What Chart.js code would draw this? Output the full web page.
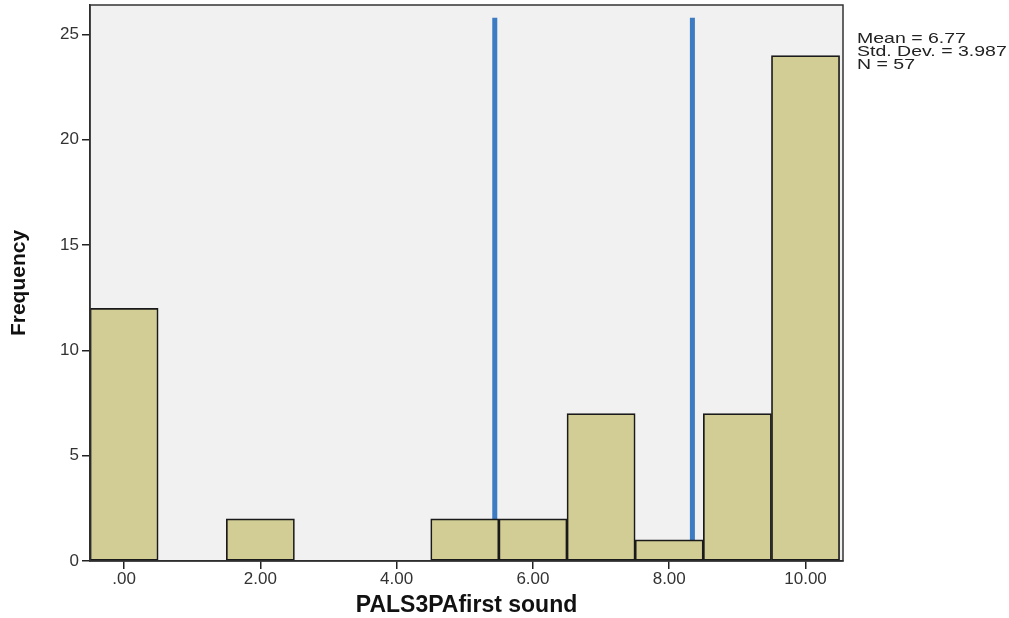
<!DOCTYPE html>
<html>
<head>
<meta charset="utf-8">
<script src="https://cdn.jsdelivr.net/npm/chart.js@4/dist/chart.umd.min.js"></script>
<style>
  html, body { margin: 0; padding: 0; background: #fff; }
  #wrap { position: relative; width: 1009px; height: 618px; }
  #stats {
    position: absolute; left: 857px; top: 31px;
    font: 15px "Liberation Sans", Arial, sans-serif; line-height: 13px; color: #222;
    transform: scaleX(1.3); transform-origin: left top; white-space: nowrap;
  }
</style>
</head>
<body>
<div id="wrap">
  <canvas id="hist" width="1009" height="618"></canvas>
  <div id="stats"></div>
</div>
<script>
// histogram bins (value -> count)
const binCenters = [0, 1, 2, 3, 4, 5, 6, 7, 8, 9, 10];
const frequencies = [12, 0, 2, 0, 0, 2, 2, 7, 1, 7, 24];
const xTicks = [0, 2, 4, 6, 8, 10];
const xTickLabels = [".00", "2.00", "4.00", "6.00", "8.00", "10.00"];
const yTicks = [0, 5, 10, 15, 20, 25];
// the two blue lines drawn over the chart
const markerX = [5.44, 8.34];
const markerTop = 25.8;
const markerBottom = 0.9;
const statsLines = ["Mean = 6.77", "Std. Dev. = 3.987", "N = 57"];

document.getElementById("stats").innerHTML = statsLines.join("<br>");

const histEl = document.getElementById("hist");

//plot area background and frame like SPSS
const plotFrame = {
  id: "plotFrame",
  beforeDraw(chart) {
    const { ctx, chartArea: a } = chart;
    ctx.save();
    ctx.fillStyle = "#f0f1f0";
    ctx.fillRect(a.left, a.top, a.right - a.left, a.bottom - a.top);
    ctx.restore();
  },
  afterDatasetsDraw(chart) {
    const { ctx, chartArea: a } = chart;
    ctx.save();
    ctx.strokeStyle = "#333";
    ctx.lineWidth = 1.5;
    ctx.strokeRect(a.left, a.top, a.right - a.left, a.bottom - a.top);
    ctx.restore();
  }
};

const barData = binCenters.map((x, i) => ({ x: x, y: frequencies[i] }));

const markerSets = markerX.map((x) => ({
  type: "line",
  data: [{ x: x, y: markerTop }, { x: x, y: markerBottom }],
  borderColor: "#3d7bc3",
  borderWidth: 5,
  borderCapStyle: "butt",
  pointRadius: 0,
  fill: false
}));

const tickFont = { family: "'Liberation Sans', Arial, sans-serif", size: 17 };

new Chart(histEl, {
  type: "bar",
  data: {
    datasets: [
      {
        type: "bar",
        data: barData,
        backgroundColor: "#d2cc95",
        borderColor: "#1a1a1a",
        borderWidth: 1.7,
        borderSkipped: false,
        barPercentage: 1,
        categoryPercentage: 1
      },
      ...markerSets
    ]
  },
  options: {
    responsive: false,
    animation: false,
    layout: { padding: { top: 5, right: 166, left: 0, bottom: 0 } },
    plugins: { legend: { display: false }, tooltip: { enabled: false } },
    scales: {
      x: {
        type: "linear",
        offset: false,
        min: -0.5,
        max: 10.55,
        afterBuildTicks: (scale) => { scale.ticks = xTicks.map((v) => ({ value: v })); },
        afterFit: (scale) => { scale.height = 57; scale.paddingLeft = 0; scale.paddingRight = 0; },
        ticks: {
          color: "#333",
          font: tickFont,
          padding: 0,
          maxRotation: 0,
          callback: (v) => xTickLabels[xTicks.indexOf(v)]
        },
        grid: { offset: false, drawOnChartArea: false, drawTicks: true, tickLength: 8, color: "#222", lineWidth: 1.5 },
        border: { display: true, color: "#222", width: 1.5 },
        title: {
          display: true,
          text: "PALS3PAfirst sound",
          color: "#111",
          font: { family: "'Liberation Sans', Arial, sans-serif", size: 23, weight: "bold" },
          padding: { top: 0, bottom: -1 }
        }
      },
      y: {
        min: 0,
        max: 26.4,
        afterBuildTicks: (scale) => { scale.ticks = yTicks.map((v) => ({ value: v })); },
        afterFit: (scale) => { scale.width = 90; scale.paddingTop = 0; scale.paddingBottom = 0; },
        ticks: { color: "#333", font: tickFont, padding: 3 },
        grid: { drawOnChartArea: false, drawTicks: true, tickLength: 8, color: "#222", lineWidth: 1.5 },
        border: { display: true, color: "#222", width: 1.5 },
        title: {
          display: true,
          text: "Frequency",
          color: "#111",
          font: { family: "'Liberation Sans Narrow', 'Liberation Sans', Arial, sans-serif", size: 21, weight: "bold" },
          padding: { top: 7, bottom: 0 }
        }
      }
    }
  },
  plugins: [plotFrame]
});
</script>
</body>
</html>
